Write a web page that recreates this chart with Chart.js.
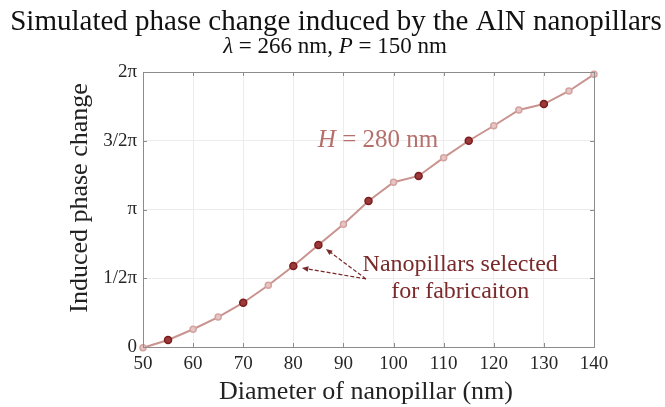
<!DOCTYPE html>
<html>
<head>
<meta charset="utf-8">
<script src="https://cdn.jsdelivr.net/npm/chart.js@4"></script>
<style>
  html, body { margin: 0; padding: 0; background: #fff; }
  #wrap { width: 665px; height: 407px; }
</style>
</head>
<body>
<div id="wrap"><canvas id="c" width="665" height="407"></canvas></div>
<script>
// diameter of the nanopillar (nm)
const diameters = [50, 55, 60, 65, 70, 75, 80, 85, 90, 95, 100, 105, 110, 115, 120, 125, 130, 135, 140]
// induced phase, in units of pi
const phase = [-0.005, 0.051, 0.129, 0.218, 0.322, 0.449, 0.589, 0.742, 0.892, 1.062, 1.198, 1.244, 1.377, 1.50, 1.609, 1.724, 1.767, 1.862, 1.983]
// diameters picked for fabrication
const selected = [55, 70, 80, 85, 95, 105, 115, 130]
const yTickValues = [0, 0.5, 1, 1.5, 2]
const yTickLabels = ['0', '1/2π', 'π', '3/2π', '2π']

// annotation anchors, in data units
const arrowFrom = {x: 94.5, y: 0.495}
const arrowTo = [{x: 86.5, y: 0.713}, {x: 81.7, y: 0.575}]

const SERIF = '"Liberation Serif", "DejaVu Serif", serif'
const lineColor = '#c9938f'
const darkRed = '#7c1c1c'
const textRed = '#7a2a2a'

const isSel = diameters.map(d => selected.includes(d))

// draw a run of [text, italic] pieces centred on x
function drawPieces (ctx, pieces, cx, cy, size, color) {
  const fonts = pieces.map(p => (p[1] ? 'italic ' : '') + size + 'px ' + SERIF)
  let total = 0
  const widths = pieces.map((p, i) => {
    ctx.font = fonts[i]
    const w = ctx.measureText(p[0]).width
    total += w
    return w
  })
  let x = cx - total / 2
  ctx.fillStyle = color
  ctx.textAlign = 'left'
  ctx.textBaseline = 'middle'
  pieces.forEach((p, i) => {
    ctx.font = fonts[i]
    ctx.fillText(p[0], x, cy)
    x += widths[i]
  })
}

function arrow (ctx, x0, y0, x1, y1) {
  const ang = Math.atan2(y1 - y0, x1 - x0)
  const head = 7
  ctx.save()
  ctx.strokeStyle = textRed
  ctx.fillStyle = textRed
  ctx.lineWidth = 1.2
  ctx.setLineDash([4, 2])
  ctx.beginPath()
  ctx.moveTo(x0, y0)
  ctx.lineTo(x1 - Math.cos(ang) * head * 0.8, y1 - Math.sin(ang) * head * 0.8)
  ctx.stroke()
  ctx.setLineDash([])
  ctx.beginPath()
  ctx.moveTo(x1, y1)
  ctx.lineTo(x1 - head * Math.cos(ang - 0.4), y1 - head * Math.sin(ang - 0.4))
  ctx.lineTo(x1 - head * Math.cos(ang + 0.4), y1 - head * Math.sin(ang + 0.4))
  ctx.closePath()
  ctx.fill()
  ctx.restore()
}

const decorations = {
  id: 'decorations',
  afterDraw (chart) {
    const ctx = chart.ctx
    const a = chart.chartArea
    const xs = chart.scales.x
    const ys = chart.scales.y
    ctx.save()

    // box on top and right, inward ticks
    ctx.strokeStyle = '#8c8c8c'
    ctx.lineWidth = 1
    ctx.beginPath()
    ctx.moveTo(a.left, a.top + 0.5)
    ctx.lineTo(a.right + 0.5, a.top + 0.5)
    ctx.lineTo(a.right + 0.5, a.bottom)
    ctx.stroke()
    ctx.beginPath()
    xs.ticks.forEach(t => {
      const px = Math.round(xs.getPixelForValue(t.value)) + 0.5
      ctx.moveTo(px, a.bottom); ctx.lineTo(px, a.bottom - 4)
      ctx.moveTo(px, a.top); ctx.lineTo(px, a.top + 4)
    })
    ys.ticks.forEach(t => {
      const py = Math.round(ys.getPixelForValue(t.value)) + 0.5
      ctx.moveTo(a.left, py); ctx.lineTo(a.left + 4, py)
      ctx.moveTo(a.right, py); ctx.lineTo(a.right - 4, py)
    })
    ctx.stroke()

    // titles
    drawPieces(ctx, [['Simulated phase change induced by the AlN nanopillars', false]], 336, 22, 29, '#111')
    drawPieces(ctx, [['λ', true], [' = 266 nm, ', false], ['P', true], [' = 150 nm', false]], 335, 47, 23, '#111')

    // axis titles
    drawPieces(ctx, [['Diameter of nanopillar (nm)', false]], 366, 392, 26, '#222')
    ctx.save()
    ctx.translate(80, 198)
    ctx.rotate(-Math.PI / 2)
    drawPieces(ctx, [['Induced phase change', false]], 0, 0, 26, '#222')
    ctx.restore()

    // annotations
    drawPieces(ctx, [['H', true], [' = 280 nm', false]], xs.getPixelForValue(96.9), ys.getPixelForValue(1.50), 25, '#b5706c')
    drawPieces(ctx, [['Nanopillars selected', false]], xs.getPixelForValue(113.3), ys.getPixelForValue(0.595), 24, textRed)
    drawPieces(ctx, [['for fabricaiton', false]], xs.getPixelForValue(113.3), ys.getPixelForValue(0.4), 24, textRed)
    const fx = xs.getPixelForValue(arrowFrom.x)
    const fy = ys.getPixelForValue(arrowFrom.y)
    arrowTo.forEach(p => arrow(ctx, fx, fy, xs.getPixelForValue(p.x), ys.getPixelForValue(p.y)))

    ctx.restore()
  }
}

new Chart(document.getElementById('c'), {
  type: 'line',
  data: {
    datasets: [{
      data: diameters.map((d, i) => ({x: d, y: phase[i]})),
      borderColor: lineColor,
      borderWidth: 2,
      clip: false,
      pointRadius: isSel.map(s => (s ? 3.5 : 3)),
      pointBorderWidth: 1.5,
      pointBorderColor: isSel.map(s => (s ? darkRed : '#d4a3a0')),
      pointBackgroundColor: isSel.map(s => (s ? '#9a3a3a' : '#e6c6c4')),
      tension: 0
    }]
  },
  options: {
    responsive: false,
    animation: false,
    layout: {padding: {top: 72, right: 71, left: 0, bottom: 0}},
    plugins: {legend: {display: false}, tooltip: {enabled: false}},
    scales: {
      x: {
        type: 'linear',
        min: 50,
        max: 140,
        afterFit: s => { s.height = 60 },
        ticks: {stepSize: 10, padding: 6, color: '#262626', font: {family: SERIF, size: 19}},
        grid: {color: '#ececec', drawTicks: false},
        border: {color: '#8c8c8c'}
      },
      y: {
        type: 'linear',
        min: 0,
        max: 2,
        afterFit: s => { s.width = 143 },
        afterBuildTicks: s => { s.ticks = yTickValues.map(v => ({value: v})) },
        ticks: {
          padding: 6,
          color: '#262626',
          font: {family: SERIF, size: 19},
          callback: v => yTickLabels[yTickValues.indexOf(v)]
        },
        grid: {color: '#ececec', drawTicks: false},
        border: {color: '#8c8c8c'}
      }
    }
  },
  plugins: [decorations]
})
</script>
</body>
</html>
